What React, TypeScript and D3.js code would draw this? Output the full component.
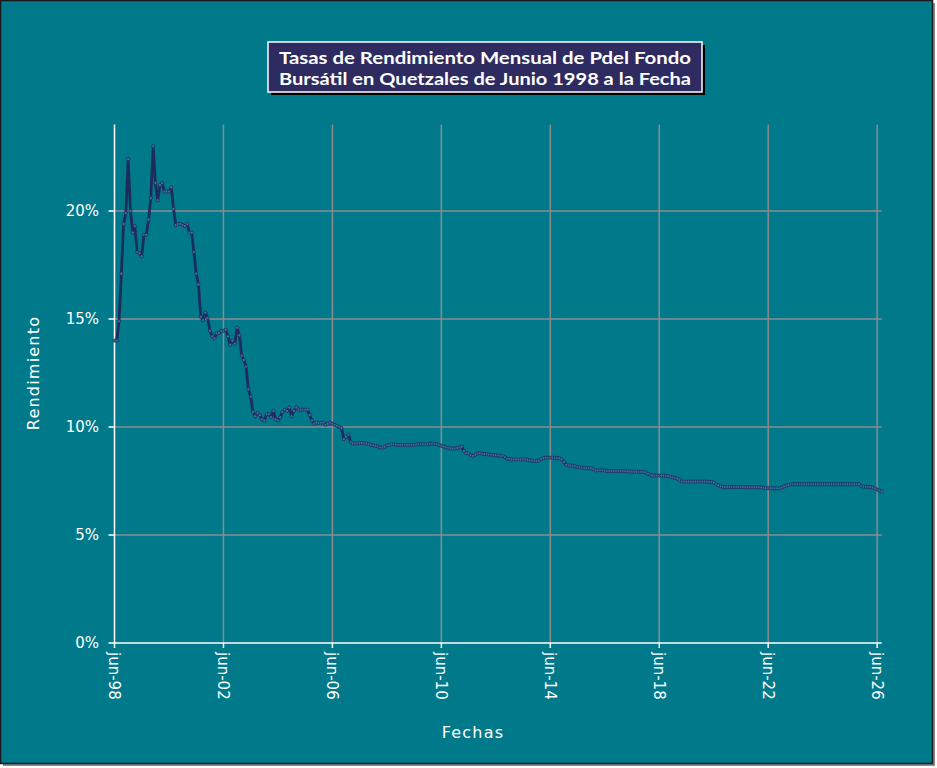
import React from "react";
import * as d3 from "d3";

// ---- DATA ----
const startMonth = new Date(1998, 5, 1); // jun-98
const endMonth = new Date(2026, 7, 1);
const rendimiento: number[] = [
  // jun-98 .. may-99
  14.0, 14.0, 14.9, 17.1, 19.4, 19.9, 22.4, 20.0, 19.0, 19.3, 18.1, 18.05,
  // jun-99 .. may-00
  17.9, 18.9, 18.9, 19.6, 20.6, 23.0, 21.3, 20.5, 21.2, 21.3, 20.9, 20.9,
  // jun-00 .. may-01
  20.9, 21.1, 20.1, 19.35, 19.4, 19.4, 19.35, 19.3, 19.4, 19.0, 19.0, 18.1,
  // jun-01 .. may-02
  17.1, 16.6, 15.1, 14.95, 15.3, 15.05, 14.45, 14.2, 14.1, 14.35, 14.35, 14.45,
  // jun-02 .. may-03
  14.45, 14.5, 14.2, 13.8, 14.0, 13.85, 14.6, 14.25, 13.3, 13.1, 12.8, 11.75,
  // jun-03 .. may-04
  11.4, 10.7, 10.5, 10.65, 10.55, 10.35, 10.3, 10.6, 10.6, 10.45, 10.75, 10.35,
  // jun-04 .. may-05
  10.3, 10.45, 10.7, 10.8, 10.75, 10.9, 10.5, 10.75, 10.9, 10.8, 10.8, 10.8,
  // jun-05 .. may-06
  10.8, 10.8, 10.55, 10.3, 10.15, 10.2, 10.2, 10.2, 10.2, 10.1, 10.15, 10.2,
  // jun-06 .. may-07
  10.15, 10.1, 10.05, 10.0, 9.95, 9.44, 9.55, 9.65, 9.3, 9.24, 9.24, 9.24,
  // jun-07 .. may-08
  9.27, 9.27, 9.24, 9.24, 9.2, 9.17, 9.15, 9.13, 9.1, 9.06, 9.04, 9.09,
  // jun-08 .. may-09
  9.15, 9.17, 9.2, 9.2, 9.17, 9.17, 9.17, 9.17, 9.17, 9.17, 9.17, 9.17,
  // jun-09 .. may-10
  9.17, 9.2, 9.2, 9.2, 9.2, 9.2, 9.2, 9.22, 9.24, 9.22, 9.2, 9.17,
  // jun-10 .. may-11
  9.13, 9.1, 9.06, 9.03, 9.01, 9.0, 9.01, 9.03, 9.06, 9.09, 8.89, 8.8,
  // jun-11 .. may-12
  8.78, 8.7, 8.67, 8.72, 8.78, 8.78, 8.76, 8.75, 8.74, 8.72, 8.71, 8.7,
  // jun-12 .. may-13
  8.7, 8.68, 8.66, 8.66, 8.6, 8.53, 8.52, 8.5, 8.5, 8.5, 8.5, 8.5,
  // jun-13 .. may-14
  8.5, 8.5, 8.48, 8.45, 8.44, 8.43, 8.43, 8.45, 8.52, 8.56, 8.58, 8.58,
  // jun-14 .. may-15
  8.58, 8.58, 8.57, 8.56, 8.55, 8.5, 8.38, 8.24, 8.22, 8.21, 8.21, 8.18,
  // jun-15 .. may-16
  8.15, 8.13, 8.12, 8.1, 8.09, 8.09, 8.08, 8.05, 7.99, 7.99, 8.0, 8.0,
  // jun-16 .. may-17
  7.98, 7.96, 7.96, 7.96, 7.96, 7.96, 7.96, 7.96, 7.95, 7.95, 7.95, 7.94,
  // jun-17 .. may-18
  7.93, 7.93, 7.93, 7.92, 7.92, 7.91, 7.9, 7.84, 7.78, 7.76, 7.75, 7.75,
  // jun-18 .. may-19
  7.75, 7.75, 7.75, 7.74, 7.72, 7.69, 7.67, 7.64, 7.61, 7.55, 7.48, 7.47,
  // jun-19 .. may-20
  7.47, 7.47, 7.47, 7.47, 7.47, 7.47, 7.47, 7.47, 7.47, 7.47, 7.46, 7.45,
  // jun-20 .. may-21
  7.43, 7.35, 7.3, 7.25, 7.23, 7.22, 7.22, 7.22, 7.22, 7.22, 7.22, 7.22,
  // jun-21 .. may-22
  7.22, 7.22, 7.21, 7.21, 7.21, 7.21, 7.21, 7.21, 7.21, 7.2, 7.18, 7.17,
  // jun-22 .. may-23
  7.17, 7.16, 7.16, 7.16, 7.16, 7.16, 7.2, 7.25, 7.29, 7.32, 7.34, 7.35,
  // jun-23 .. may-24
  7.35, 7.35, 7.35, 7.35, 7.35, 7.35, 7.35, 7.35, 7.35, 7.35, 7.35, 7.35,
  // jun-24 .. may-25
  7.35, 7.35, 7.35, 7.35, 7.35, 7.35, 7.35, 7.35, 7.35, 7.35, 7.35, 7.35,
  // jun-25 .. may-26
  7.35, 7.35, 7.35, 7.35, 7.35, 7.26, 7.24, 7.23, 7.22, 7.22, 7.2, 7.16,
  // jun-26 .. aug-26
  7.1, 7.06, 7.02,
];
const xTickYears = [1998, 2002, 2006, 2010, 2014, 2018, 2022, 2026];
const yTicks = [0, 5, 10, 15, 20];
const titleLines = [
  "Tasas de Rendimiento Mensual de Pdel Fondo",
  "Bursátil en Quetzales de Junio 1998 a la Fecha",
];

const W = 937;
const H = 768;
const FONT = "'DejaVu Sans', Lato, sans-serif";
const TITLE_FONT = "Lato, 'Open Sans', sans-serif";

export default function App() {
  const left = 114.5;
  const right = 881.7;
  const bottom = 643;
  const top = 124.6;

  const x = d3.scaleTime().domain([startMonth, endMonth]).range([left, right]);
  const y = d3.scaleLinear().domain([0, 24]).range([bottom, top]);

  const points = rendimiento.map((v, i) => ({
    date: d3.timeMonth.offset(startMonth, i),
    v,
  }));
  const line = d3
    .line<{ date: Date; v: number }>()
    .x((d) => x(d.date))
    .y((d) => y(d.v));

  const xTicks = xTickYears.map((yr) => new Date(yr, 5, 1));
  const fmt = (d: Date) => "jun-" + String(d.getFullYear() % 100).padStart(2, "0");

  return (
    <div style={{ position: "fixed", left: 0, top: 0, width: W, height: H, background: "#fff" }}>
      <svg width={W} height={H} style={{ display: "block" }}>
        {/* frame */}
        <rect x={3} y={3} width={932} height={763} fill="#8a8a8a" />
        <rect x={0.5} y={0.5} width={932} height={763} fill="#00798a" stroke="#1a1a1a" strokeWidth={1.5} />

        {/* grid */}
        {yTicks
          .filter((t) => t > 0)
          .map((t) => (
            <line key={"gy" + t} x1={left} x2={right} y1={y(t)} y2={y(t)} stroke="#8c8c8c" strokeWidth={1.5} />
          ))}
        {xTicks.slice(1).map((d, i) => (
          <line key={"gx" + i} x1={x(d)} x2={x(d)} y1={top} y2={bottom} stroke="#8c8c8c" strokeWidth={1.5} />
        ))}

        {/* axes */}
        <line x1={left} x2={left} y1={top} y2={bottom} stroke="#ffffff" strokeWidth={1.5} />
        <line x1={left} x2={right} y1={bottom} y2={bottom} stroke="#ffffff" strokeWidth={1.5} />
        {yTicks.map((t) => (
          <g key={"yt" + t}>
            <line x1={left - 6} x2={left} y1={y(t)} y2={y(t)} stroke="#ffffff" strokeWidth={1.5} />
            <text
              x={99}
              y={y(t)}
              dy="0.36em"
              textAnchor="end"
              fill="#ffffff"
              fontFamily={FONT}
              fontSize={15}
            >
              {t + "%"}
            </text>
          </g>
        ))}
        {xTicks.map((d, i) => (
          <g key={"xt" + i}>
            <line x1={x(d)} x2={x(d)} y1={bottom} y2={bottom + 5} stroke="#ffffff" strokeWidth={1.5} />
            <text
              transform={`translate(${x(d)},${bottom + 9}) rotate(90)`}
              dy="0.35em"
              textAnchor="start"
              fill="#ffffff"
              fontFamily={FONT}
              fontSize={15}
            >
              {fmt(d)}
            </text>
          </g>
        ))}

        {/* axis titles */}
        <text
          transform={`translate(39,373) rotate(-90)`}
          textAnchor="middle"
          fill="#ffffff"
          fontFamily={FONT}
          fontSize={16}
          letterSpacing={1.2}
        >
          Rendimiento
        </text>
        <text x={473} y={738} textAnchor="middle" fill="#ffffff" fontFamily={FONT} fontSize={16} letterSpacing={1.2}>
          Fechas
        </text>

        {/* series */}
        <path d={line(points) || ""} fill="none" stroke="#1c2d5c" strokeWidth={2.8} strokeLinejoin="round" />
        {points.map((p, i) => (
          <circle key={i} cx={x(p.date)} cy={y(p.v)} r={1.6} fill="#3f6f9c" stroke="#1c2d5c" strokeWidth={0.7} />
        ))}

        {/* title */}
        <rect x={271} y={45} width={434} height={50} fill="#000000" />
        <rect x={268} y={42} width={434} height={50} fill="#2d2b5f" stroke="#ffffff" strokeWidth={1.5} />
        {titleLines.map((t, i) => (
          <text
            key={i}
            x={485}
            y={64 + i * 21}
            textAnchor="middle"
            fill="#ffffff"
            fontFamily={TITLE_FONT}
            fontWeight="bold"
            fontSize={17}
            textLength={412}
            lengthAdjust="spacingAndGlyphs"
          >
            {t}
          </text>
        ))}
      </svg>
    </div>
  );
}
